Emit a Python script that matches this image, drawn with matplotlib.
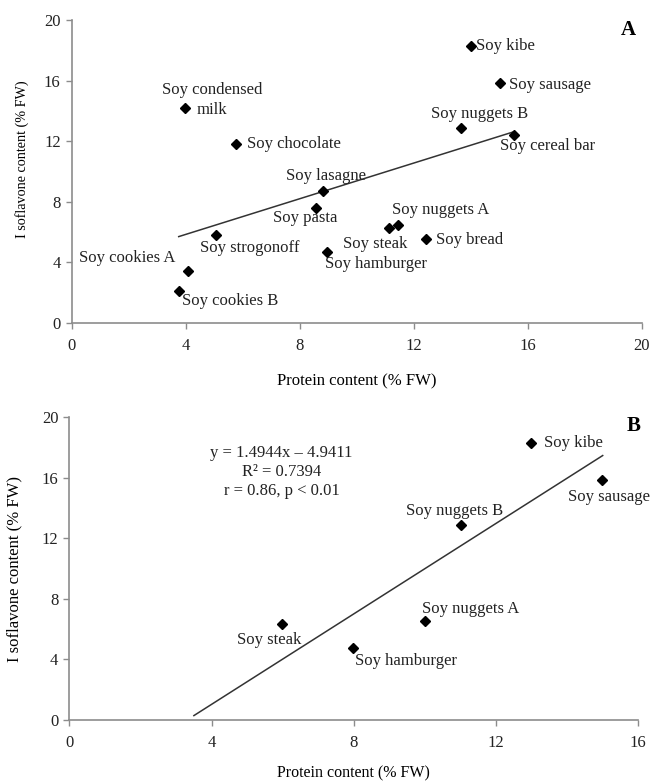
import numpy as np
import matplotlib
matplotlib.use("Agg")
import matplotlib.pyplot as plt

# ======================
# data
# ======================
# panel A : all products
names_a = ["Soy condensed milk", "Soy chocolate", "Soy lasagne", "Soy pasta",
           "Soy strogonoff", "Soy hamburger", "Soy cookies A", "Soy cookies B",
           "Soy kibe", "Soy sausage", "Soy nuggets B", "Soy cereal bar",
           "Soy steak", "Soy nuggets A", "Soy bread"]
protein_a = [3.96, 5.75, 8.82, 8.55, 5.05, 8.94, 4.06, 3.75,
             14.02, 15.02, 13.64, 15.52, 11.12, 11.45, 12.42]
isoflavone_a = [14.2, 11.8, 8.68, 7.6, 5.8, 4.7, 3.4, 2.1,
                18.3, 15.85, 12.9, 12.38, 6.3, 6.48, 5.55]

# panel B : meat analogues
names_b = ["Soy steak", "Soy hamburger", "Soy nuggets A", "Soy nuggets B",
           "Soy kibe", "Soy sausage"]
protein_b = [5.99, 7.98, 9.99, 11.0, 12.97, 14.99]
isoflavone_b = [6.32, 4.78, 6.57, 12.9, 18.3, 15.86]

# regression printed on panel B
slope_b = 1.4944
intercept_b = -4.9411
r2_b = 0.7394
line_b_x = [3.5, 15.0]

ticks_a = [0, 4, 8, 12, 16, 20]
ticks_b = [0, 4, 8, 12, 16]
ticks_y = [0, 4, 8, 12, 16, 20]

# ======================
# label placement (offset pixels, ha)
# ======================
labels_a = {
    "Soy condensed milk": None,
    "Soy chocolate": (11, 0, "left"),
    "Soy lasagne": (3, 15, "center"),
    "Soy pasta": (-10, -10, "center"),
    "Soy strogonoff": (34, -13, "center"),
    "Soy hamburger": (-2, -12, "left"),
    "Soy cookies A": (-12, 13, "right"),
    "Soy cookies B": (3, -10, "left"),
    "Soy kibe": (5, 0, "left"),
    "Soy sausage": (9, -2, "left"),
    "Soy nuggets B": (19, 14, "center"),
    "Soy cereal bar": (-14, -11, "left"),
    "Soy steak": (-14, -16, "center"),
    "Soy nuggets A": (-6, 15, "left"),
    "Soy bread": (10, -1, "left"),
}
labels_b = {
    "Soy steak": (-13, -16, "center"),
    "Soy hamburger": (2, -13, "left"),
    "Soy nuggets A": (-3, 12, "left"),
    "Soy nuggets B": (-6, 14, "center"),
    "Soy kibe": (13, 0, "left"),
    "Soy sausage": (-34, -17, "left"),
}

plt.rcParams['font.family'] = ['Liberation Serif', 'DejaVu Serif']
FS = 12
AXIS_GRAY = '#8c8c8c'


def style_axes(ax, xmax, xticks):
    ax.set_xlim(0, xmax)
    ax.set_ylim(0, 20)
    ax.set_xticks(xticks)
    ax.set_yticks(ticks_y)
    for side in ['top', 'right']:
        ax.spines[side].set_visible(False)
    for side in ['left', 'bottom']:
        ax.spines[side].set_color(AXIS_GRAY)
        ax.spines[side].set_linewidth(1.2)
    ax.tick_params(colors=AXIS_GRAY, labelcolor='#222222', labelsize=FS,
                   length=4, width=1)
    ax.tick_params(axis='x', pad=7)
    ax.tick_params(axis='y', pad=4)
    ax.patch.set_alpha(0)


def annotate_points(ax, names, xs, ys, offsets):
    for name, x, y in zip(names, xs, ys):
        off = offsets[name]
        if off is None:
            continue
        dx, dy, ha = off
        ax.annotate(name, (x, y), xytext=(dx, dy), textcoords='offset pixels',
                    ha=ha, va='center', fontsize=FS, color='#222222')


fig = plt.figure(figsize=(6.53, 7.83), dpi=100)

# ======================
# panel A
# ======================
ax1 = fig.add_axes([0.110, 0.5875, 0.873, 0.387])
style_axes(ax1, 20, ticks_a)
ax1.plot(protein_a, isoflavone_a, 'D', color='black', ms=5.5, clip_on=False, zorder=3)

coef_a = np.polyfit(protein_a, isoflavone_a, 1)
xa = np.array([min(protein_a), max(protein_a)])
ax1.plot(xa, np.polyval(coef_a, xa), color='#333333', lw=1.1)

annotate_points(ax1, names_a, protein_a, isoflavone_a, labels_a)
# condensed milk label is split on two lines
i_milk = names_a.index("Soy condensed milk")
ax1.annotate("Soy condensed", (protein_a[i_milk], isoflavone_a[i_milk]),
             xytext=(27, 18), textcoords='offset pixels', ha='center',
             va='center', fontsize=FS, color='#222222')
ax1.annotate("milk", (protein_a[i_milk], isoflavone_a[i_milk]),
             xytext=(12, -2), textcoords='offset pixels', ha='left',
             va='center', fontsize=FS, color='#222222')

ax1.set_xlabel("Protein content (% FW)", fontsize=FS)
ax1.xaxis.set_label_coords(0.5, -0.165)
ax1.set_ylabel("I soflavone content (% FW)", fontsize=10.2)
ax1.yaxis.set_label_coords(-0.076, 0.54)
ax1.text(0.977, 0.967, "A", transform=ax1.transAxes, fontsize=15,
         fontweight='bold', ha='center', va='center')

# ======================
# panel B
# ======================
ax2 = fig.add_axes([0.1064, 0.0805, 0.871, 0.3865])
style_axes(ax2, 16, ticks_b)
ax2.plot(protein_b, isoflavone_b, 'D', color='black', ms=5.5, clip_on=False, zorder=3)

xb = np.array(line_b_x)
ax2.plot(xb, slope_b * xb + intercept_b, color='#333333', lw=1.1)

annotate_points(ax2, names_b, protein_b, isoflavone_b, labels_b)

eq_text = (f"y = {slope_b:.4f}x \u2013 {abs(intercept_b):.4f}\n"
           f"R\u00b2 = {r2_b:.4f}\n"
           "r = 0.86, p < 0.01")
ax2.text(0.373, 0.818, eq_text, transform=ax2.transAxes, fontsize=FS,
         ha='center', va='center', linespacing=1.25, color='#222222')

ax2.set_xlabel("Protein content (% FW)", fontsize=11.5)
ax2.xaxis.set_label_coords(0.5, -0.15)
ax2.set_ylabel("I soflavone content (% FW)", fontsize=FS)
ax2.yaxis.set_label_coords(-0.083, 0.5)
ax2.text(0.992, 0.97, "B", transform=ax2.transAxes, fontsize=15,
         fontweight='bold', ha='center', va='center')

fig.savefig("out.png", dpi=100)
